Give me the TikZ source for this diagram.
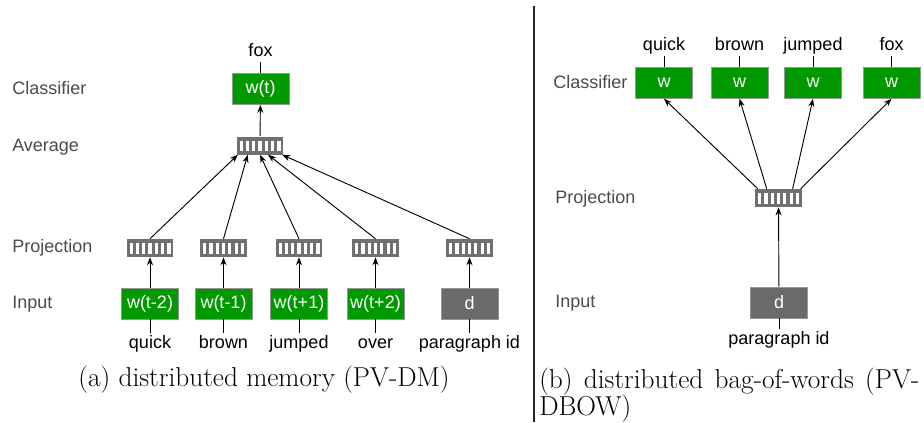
\documentclass[tikz,border=0pt]{standalone}
\usepackage{fontspec}
\newfontfamily\hv{Liberation Sans}
\usepackage{tikz}
\usetikzlibrary{arrows.meta,calc}
\definecolor{boxgreen}{RGB}{0,153,0}
\definecolor{bargray}{RGB}{112,112,112}
\definecolor{dgray}{RGB}{106,106,106}
\definecolor{edgegray}{RGB}{150,150,150}
\definecolor{labgray}{RGB}{75,75,75}
\tikzset{
    lay/.style={anchor=base west,inner sep=0pt,text=labgray,font=\hv\fontsize{13.5}{16}\selectfont},%layer names
    word/.style={anchor=base,inner sep=1.5pt,text height=9.5pt,text depth=3pt,font=\hv\fontsize{13.5}{16}\selectfont},
    wbox/.style={draw=edgegray,fill=boxgreen,text=white,minimum width=42.75pt,minimum height=23.25pt,inner sep=0pt,font=\hv\fontsize{13.5}{16}\selectfont},
    dbox/.style={wbox,fill=dgray},
    vec/.style={fill=bargray,minimum width=35pt,minimum height=13.5pt,inner sep=0pt,
        path picture={\foreach \i in {-3,...,3}
            \fill[white] ([shift={(\i*6.3-1.6,-5)}]path picture bounding box.center) rectangle ++(3.2,10.5);}},%bar with 7 slots
    arr/.style={-{Stealth[length=6pt,width=4.5pt]},line width=0.7pt},
    captxt/.style={inner sep=0pt,font=\fontsize{20.5}{24}\selectfont},
}
\begin{document}
\begin{tikzpicture}[x=0.75pt,y=-0.75pt]
    \useasboundingbox (0,0) rectangle (924,422);
    % (a) PV-DM
    \node[lay] (lcl) at (12,94) {Classifier};
    \node[lay] (lav) at (12,151) {Average};
    \node[lay] (lpr) at (12,252) {Projection};
    \node[lay] (lin) at (12,308) {Input};
    \node[wbox] (wt) at (260.5,89) {w(t)};
    \node[word] (fox) at (260.5,56) {fox};
    \draw[line width=0.7pt] (wt) -- (fox);
    \node[vec] (avg) at (260,145.5) {};
    \draw[arr] (avg) -- (wt);
    \foreach \x/\n/\t/\w in {150/1/{w(t-2)}/quick,223.5/2/{w(t-1)}/brown,299/3/{w(t+1)}/jumped,375.5/4/{w(t+2)}/over}{
        \node[wbox] (in\n) at (\x,303.5) {\t};
        \node[vec] (pr\n) at (\x,248) {};
        \node[word] (wd\n) at (\x,348) {\w};
        \draw[line width=0.7pt] (in\n) -- (wd\n);
        \draw[arr] (in\n) -- (pr\n);
    }
    \node[dbox] (in5) at (469.5,303.5) {d};%paragraph vector
    \node[vec] (pr5) at (469.5,248) {};
    \node[word] (wd5) at (469.5,348) {paragraph id};
    \draw[line width=0.7pt] (in5) -- (wd5);
    \draw[arr] (in5) -- (pr5);
    \foreach \n/\f in {1/0.03,2/0.24,3/0.5,4/0.67,5/0.97}
        \draw[arr] (pr\n.north) -- ($(avg.south west)!\f!(avg.south east)$);
    \node[captxt,anchor=base] (capa) at (264,386) {(a) distributed memory (PV-DM)};
    % divider
    \draw[line width=1.1pt,black!85] (534,6) -- (534,422);
    % (b) PV-DBOW
    \node[lay] (rcl) at (553,88) {Classifier};
    \node[lay] (rpr) at (555,203) {Projection};
    \node[lay] (rin) at (555,307) {Input};
    \node[vec] (pj) at (778.5,198) {};
    \node[dbox] (d) at (779,302.5) {d};
    \node[word] (pid) at (779,344) {paragraph id};
    \draw[line width=0.7pt] (d) -- (pid);
    \draw[arr] (d) -- (pj);
    \foreach \x/\n/\w/\f in {664/1/quick/0.06,739.5/2/brown/0.25,813/3/jumped/0.8,891.5/4/fox/0.97}{
        \node[wbox] (c\n) at (\x,83) {w};
        \node[word] (t\n) at (\x,50) {\w};
        \draw[line width=0.7pt] (c\n) -- (t\n);
        \draw[arr] ($(pj.north west)!\f!(pj.north east)$) -- (c\n.south);
    }
    \node[captxt,anchor=base west] (capb) at (539,388) {\makebox[285pt][s]{(b) distributed bag-of-words (PV-}};
    \node[captxt,anchor=base west] (capc) at (539,415) {DBOW)};
\end{tikzpicture}
\end{document}
